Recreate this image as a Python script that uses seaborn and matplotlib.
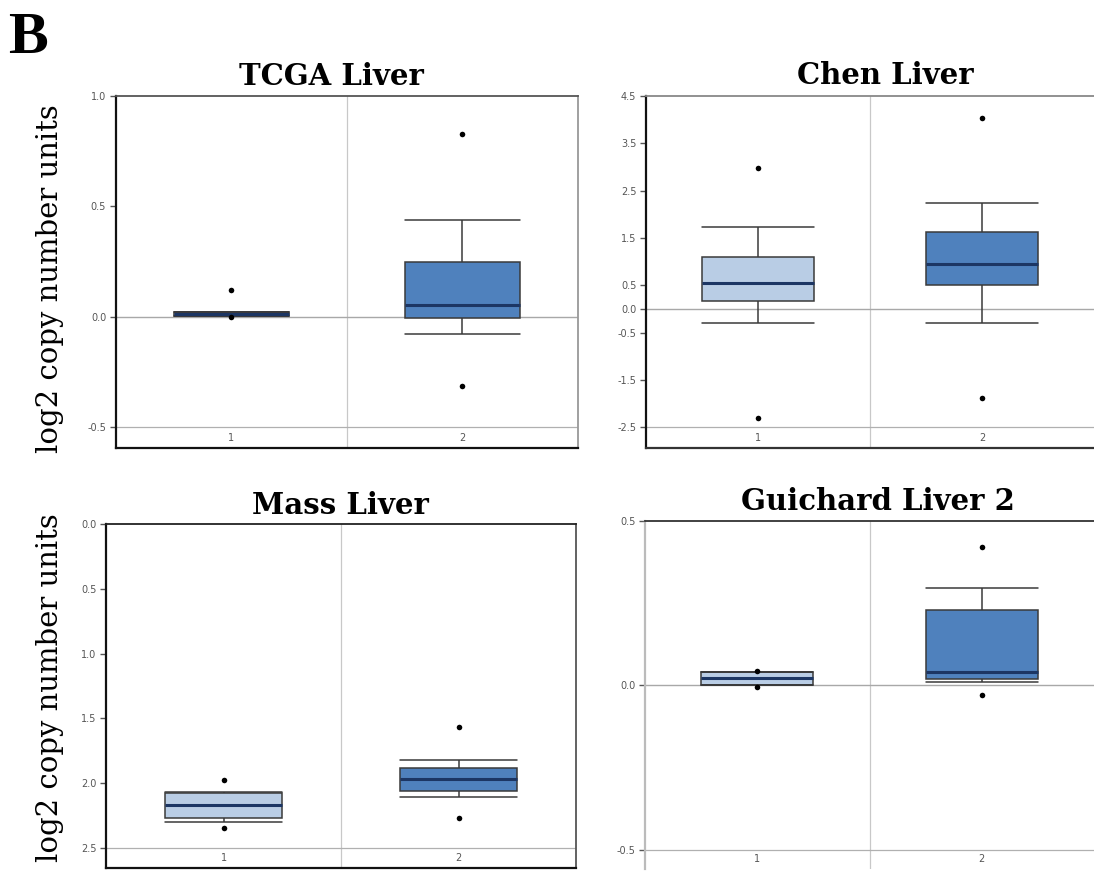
import matplotlib
matplotlib.use("Agg")
import pandas as pd
import matplotlib.pyplot as plt
import seaborn as sns

sns.set_theme(style="white")
plt.rcParams["axes.unicode_minus"] = False

groups = ["1", "2"]
light_blue = "#b9cde5"
dark_blue = "#4f81bd"

# five-number summaries: low whisker, q1, median, q3, high whisker
tcga_g1 = [0.005, 0.005, 0.013, 0.021, 0.021]
tcga_g2 = [-0.077, -0.005, 0.054, 0.25, 0.44]
tcga_out1 = [0.12, 0.0]
tcga_out2 = [0.83, -0.315]
tcga_ticks = [1.0, 0.5, 0.0, -0.5]
tcga_labels = ["1.0", "0.5", "0.0", "-0.5"]

chen_g1 = [-0.30, 0.17, 0.55, 1.10, 1.73]
chen_g2 = [-0.30, 0.50, 0.95, 1.63, 2.24]
chen_out1 = [2.98, -2.30]
chen_out2 = [4.04, -1.88]
chen_ticks = [4.5, 3.5, 2.5, 1.5, 0.5, 0.0, -0.5, -1.5, -2.5]
chen_labels = ["4.5", "3.5", "2.5", "1.5", "0.5", "0.0", "-0.5", "-1.5", "-2.5"]

mass_g1 = [2.07, 2.08, 2.17, 2.27, 2.30]
mass_g2 = [1.82, 1.88, 1.97, 2.06, 2.11]
mass_out1 = [1.98, 2.35]
mass_out2 = [1.57, 2.27]
mass_ticks = [0.0, 0.5, 1.0, 1.5, 2.0, 2.5]
mass_labels = ["0.0", "0.5", "1.0", "1.5", "2.0", "2.5"]

gui_g1 = [0.0, 0.0, 0.022, 0.04, 0.04]
gui_g2 = [0.01, 0.02, 0.04, 0.23, 0.295]
gui_out1 = [0.045, -0.005]
gui_out2 = [0.42, -0.03]
gui_ticks = [0.5, 0.0, -0.5]
gui_labels = ["0.5", "0.0", "-0.5"]


def draw_panel(ax, g1, g2, out1, out2, ticks, labels, ylim, base, zero=True):
    df = pd.DataFrame({"group": ["1"] * len(g1) + ["2"] * len(g2), "value": g1 + g2})
    sns.boxplot(data=df, x="group", y="value", hue="group", order=groups,
                palette=[light_blue, dark_blue], saturation=1, width=0.5, whis=(0, 100),
                linecolor="#3a3a3a", linewidth=1.1, showfliers=False, legend=False,
                medianprops={"color": "#1c3664", "linewidth": 2.2}, ax=ax)
    # caps as wide as the boxes
    for ln in ax.lines:
        x, y = ln.get_xdata(), ln.get_ydata()
        if len(x) == 2 and y[0] == y[1]:
            c = (x[0] + x[1]) / 2
            ln.set_xdata([c - 0.25, c + 0.25])
    odf = pd.DataFrame({"group": ["1"] * len(out1) + ["2"] * len(out2), "value": out1 + out2})
    sns.stripplot(data=odf, x="group", y="value", order=groups, jitter=False,
                  color="black", size=4, ax=ax, zorder=5)
    ax.set_xlim(-0.5, 1.5)
    ax.set_ylim(*ylim)
    ax.axvline(0.5, color="#c8c8c8", lw=0.9, zorder=0)
    ax.axhline(base, color="#b0b0b0", lw=0.9, zorder=0)
    if zero:
        ax.axhline(0, color="#a8a8a8", lw=1.0, zorder=0)
    ax.set_yticks(ticks)
    ax.set_yticklabels(labels)
    ax.set_xlabel("")
    ax.set_ylabel("")
    ax.tick_params(axis="y", left=True, length=4, width=1, color="#555555",
                   labelsize=7, labelcolor="#555555", pad=3)
    ax.tick_params(axis="x", bottom=False, length=0, pad=-11, labelsize=7,
                   labelcolor="#555555")


fig = plt.figure(figsize=(10.94, 8.71), dpi=100)
ax1 = fig.add_axes([0.106, 0.4856, 0.422, 0.404])
ax2 = fig.add_axes([0.5905, 0.4856, 0.4095, 0.404])
ax3 = fig.add_axes([0.097, 0.003, 0.4295, 0.395])
ax4 = fig.add_axes([0.5896, 0.002, 0.4104, 0.3998])

draw_panel(ax1, tcga_g1, tcga_g2, tcga_out1, tcga_out2, tcga_ticks, tcga_labels,
           (-0.595, 1.0), -0.5)
draw_panel(ax2, chen_g1, chen_g2, chen_out1, chen_out2, chen_ticks, chen_labels,
           (-2.94, 4.5), -2.5)
draw_panel(ax3, mass_g1, mass_g2, mass_out1, mass_out2, mass_ticks, mass_labels,
           (2.66, 0.0), 2.5, zero=False)
draw_panel(ax4, gui_g1, gui_g2, gui_out1, gui_out2, gui_ticks, gui_labels,
           (-0.56, 0.5), -0.5)

# spines
spine_cols = {
    ax1: {"left": "#111111", "bottom": "#111111", "top": "#555555", "right": "#999999"},
    ax2: {"left": "#111111", "bottom": "#333333", "top": "#888888", "right": None},
    ax3: {"left": "#111111", "bottom": "#111111", "top": "#222222", "right": "#555555"},
    ax4: {"left": "#bbbbbb", "bottom": None, "top": "#333333", "right": None},
}
for ax, cols in spine_cols.items():
    for side, col in cols.items():
        if col is None:
            ax.spines[side].set_visible(False)
        else:
            ax.spines[side].set_color(col)
            ax.spines[side].set_linewidth(1.6 if side in ("left", "bottom") else 1.3)

serif = ["DejaVu Serif", "Liberation Serif"]
fig.text(0.007, 1 - 53 / 871, "B", fontsize=43, fontweight="bold",
         family=["Liberation Serif"], color="black")
title_kw = dict(fontsize=21, fontweight="bold", family=serif, ha="center",
                va="baseline", color="black")
fig.text(331 / 1094, 1 - 85 / 871, "TCGA Liver", **title_kw)
fig.text(885 / 1094, 1 - 84 / 871, "Chen Liver", **title_kw)
fig.text(340 / 1094, 1 - 514 / 871, "Mass Liver", **title_kw)
fig.text(878 / 1094, 1 - 510 / 871, "Guichard Liver 2", **title_kw)
ylab_kw = dict(fontsize=21, family=serif, rotation=90, ha="center", va="center",
               color="black")
fig.text(50 / 1094, 1 - 279 / 871, "log2 copy number units", **ylab_kw)
fig.text(50 / 1094, 1 - 688 / 871, "log2 copy number units", **ylab_kw)

fig.savefig("out.png", dpi=100)
